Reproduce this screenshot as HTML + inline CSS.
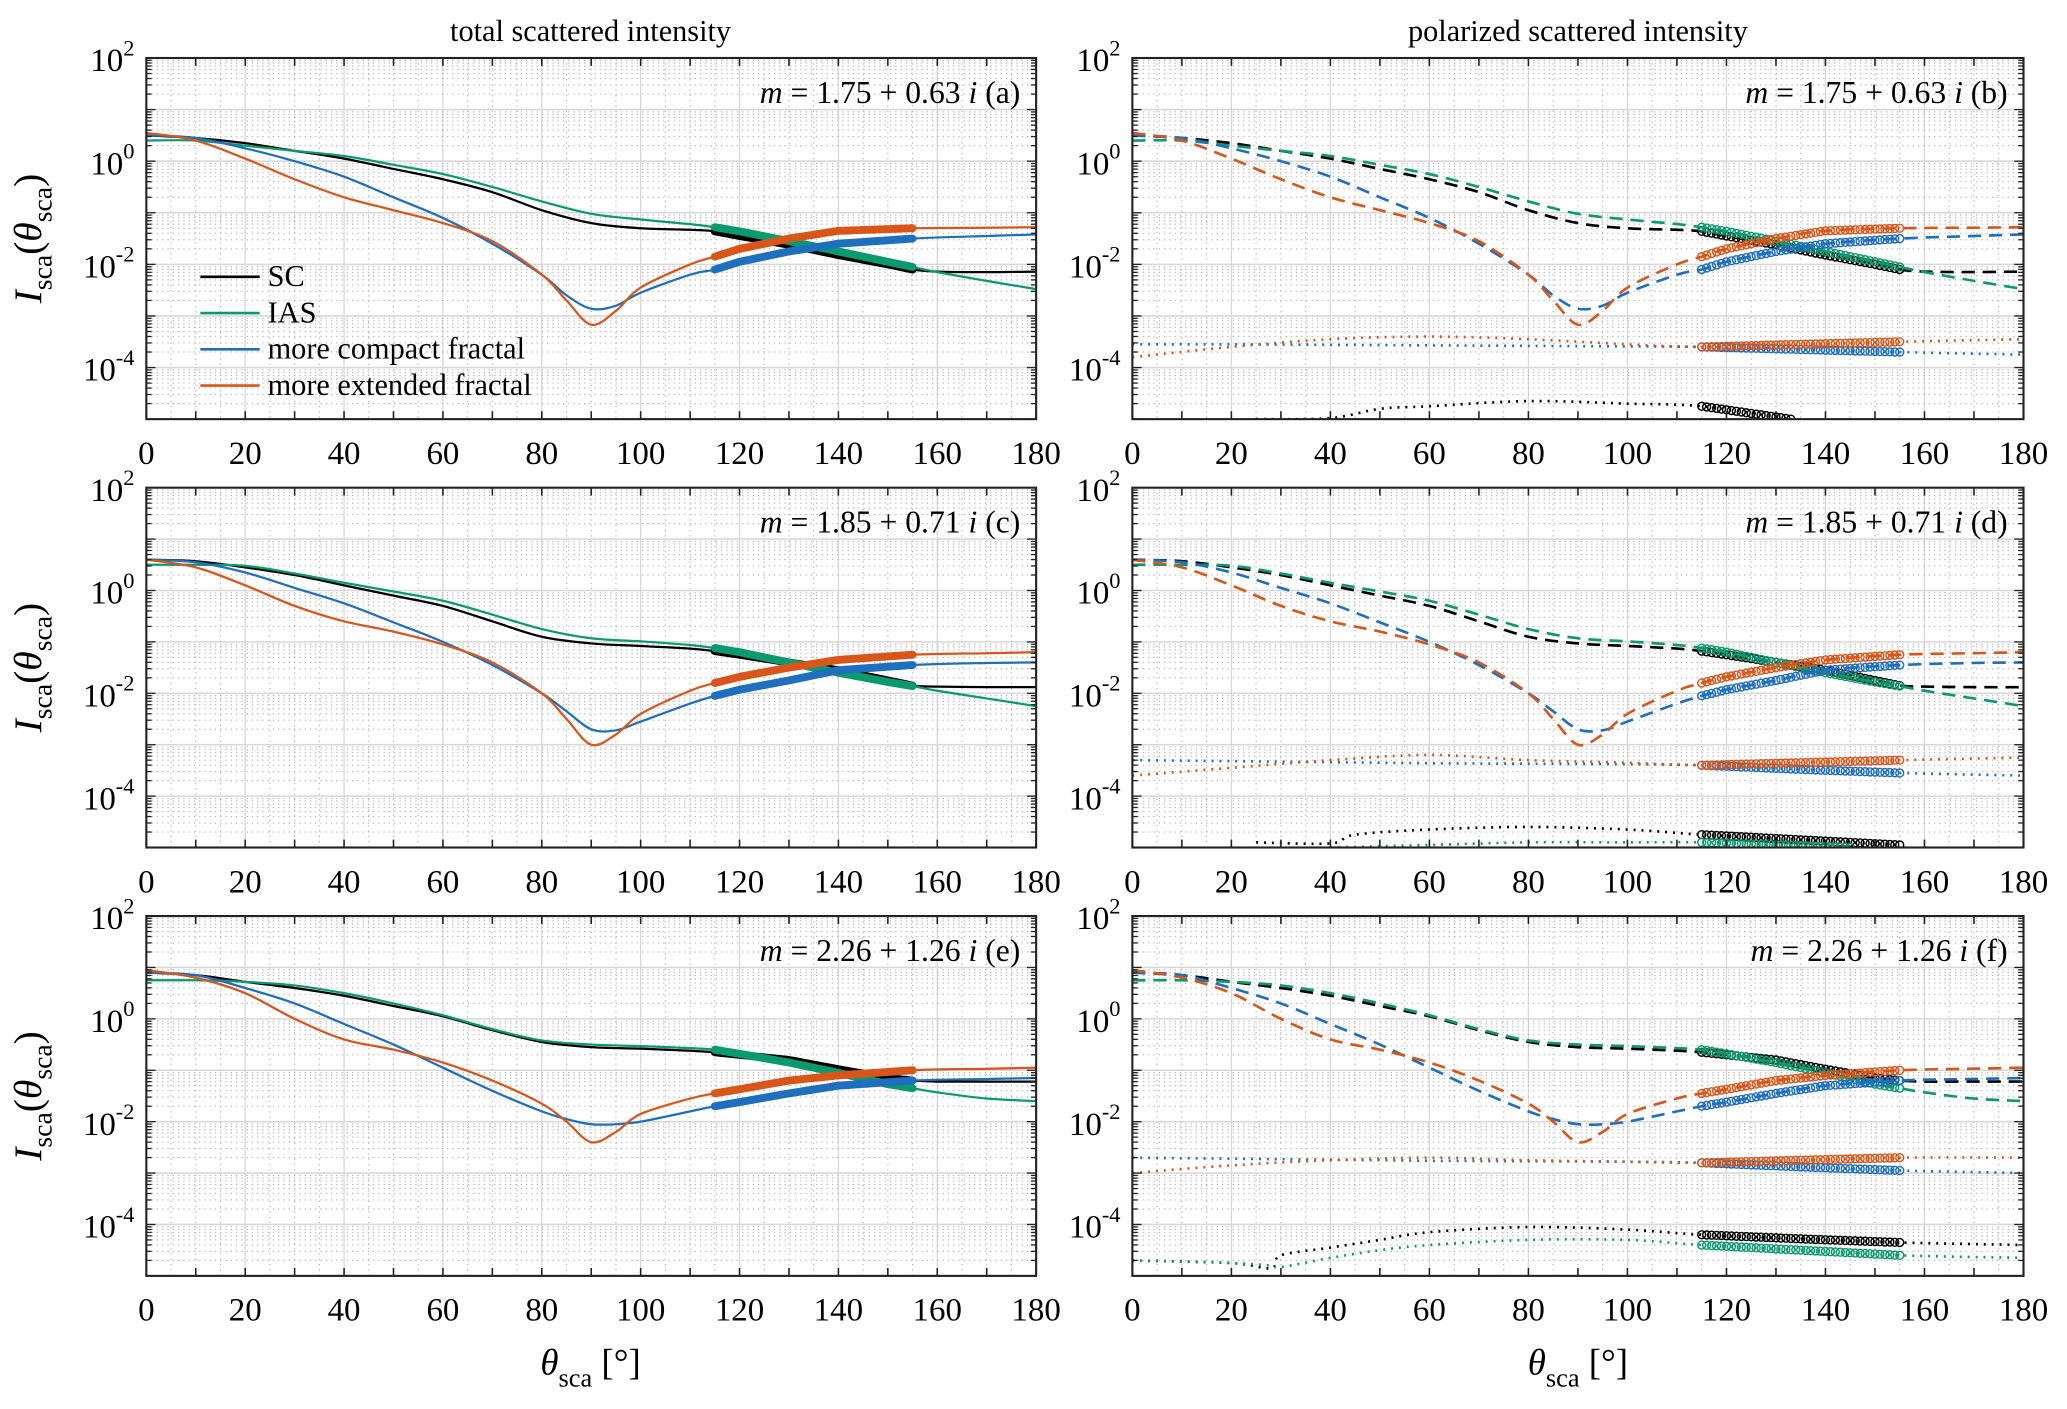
<!DOCTYPE html>
<html><head><meta charset="utf-8">
<style>
html,body{margin:0;padding:0;background:#fff;}
svg{display:block;font-family:"Liberation Serif",serif;}
svg text{font-family:"Liberation Serif",serif;}
</style></head>
<body>
<svg id="fig" width="2067" height="1409" viewBox="0 0 1568 1069" preserveAspectRatio="none" xmlns="http://www.w3.org/2000/svg">
<text x="448" y="31" font-size="23" text-anchor="middle">total scattered intensity</text>
<text x="1197" y="31" font-size="23" text-anchor="middle">polarized scattered intensity</text>
<text x="448" y="1043" font-size="28" text-anchor="middle"><tspan font-style="italic">θ</tspan><tspan font-size="20" dy="9">sca</tspan><tspan dy="-9"> [°]</tspan></text>
<text x="1197" y="1043" font-size="28" text-anchor="middle"><tspan font-style="italic">θ</tspan><tspan font-size="20" dy="9">sca</tspan><tspan dy="-9"> [°]</tspan></text>
</svg>
<script>
// ---- data (log10 of intensity), knots in degrees ----
const thetaA = [0,10,20,30,40,50,60,70,80,90,100,110,115,120,130,140,150,155,160,170,180];
const scA   = [0.5,0.45,0.35,0.2,0.05,-0.15,-0.35,-0.6,-0.95,-1.2,-1.3,-1.33,-1.36,-1.45,-1.62,-1.82,-2.0,-2.1,-2.14,-2.15,-2.14];
const iasA  = [0.4,0.4,0.3,0.2,0.1,-0.07,-0.25,-0.5,-0.78,-1.02,-1.13,-1.22,-1.28,-1.36,-1.55,-1.75,-1.95,-2.05,-2.15,-2.32,-2.48];
const thetaK = [0,10,20,30,40,50,60,70,80,85,90,95,100,110,115,120,130,140,155,170,180];
const compA = [0.5,0.45,0.25,0.0,-0.3,-0.7,-1.1,-1.6,-2.2,-2.6,-2.86,-2.8,-2.55,-2.2,-2.1,-1.95,-1.75,-1.6,-1.5,-1.45,-1.42];
const extA  = [0.55,0.4,0.05,-0.35,-0.7,-0.95,-1.2,-1.55,-2.2,-2.7,-3.17,-2.9,-2.45,-2.0,-1.85,-1.7,-1.5,-1.35,-1.3,-1.29,-1.28];

const scC   = [0.6,0.57,0.45,0.3,0.1,-0.1,-0.3,-0.6,-0.9,-1.03,-1.08,-1.13,-1.18,-1.25,-1.4,-1.55,-1.75,-1.85,-1.87,-1.88,-1.88];
const iasC  = [0.5,0.5,0.48,0.33,0.15,-0.02,-0.2,-0.47,-0.75,-0.93,-0.99,-1.06,-1.12,-1.2,-1.4,-1.6,-1.78,-1.86,-1.95,-2.1,-2.25];
const compC = [0.6,0.55,0.35,0.05,-0.25,-0.62,-1.0,-1.45,-2.0,-2.35,-2.7,-2.72,-2.55,-2.2,-2.05,-1.93,-1.75,-1.55,-1.45,-1.41,-1.4];
const extC  = [0.6,0.45,0.1,-0.3,-0.6,-0.8,-1.05,-1.4,-2.0,-2.5,-3.0,-2.8,-2.4,-1.95,-1.8,-1.68,-1.5,-1.35,-1.25,-1.22,-1.2];

const scE   = [0.9,0.85,0.72,0.6,0.45,0.25,0.05,-0.22,-0.45,-0.55,-0.58,-0.62,-0.65,-0.7,-0.8,-0.98,-1.15,-1.2,-1.22,-1.22,-1.22];
const iasE  = [0.75,0.75,0.72,0.65,0.5,0.3,0.07,-0.2,-0.42,-0.5,-0.53,-0.57,-0.6,-0.68,-0.85,-1.05,-1.27,-1.35,-1.43,-1.55,-1.6];
const compE = [0.9,0.85,0.6,0.3,-0.1,-0.5,-0.95,-1.4,-1.8,-1.95,-2.05,-2.05,-2.0,-1.8,-1.7,-1.62,-1.45,-1.3,-1.2,-1.17,-1.15];
const extE  = [0.95,0.8,0.5,0.0,-0.4,-0.6,-0.85,-1.2,-1.65,-2.0,-2.4,-2.2,-1.85,-1.55,-1.45,-1.37,-1.2,-1.1,-1.0,-0.97,-0.95];

// polarized low-level (dotted) curves
const thetaP = [0,20,40,60,80,100,115,135,155,180];
const bluePB = [-3.55,-3.55,-3.56,-3.57,-3.58,-3.59,-3.6,-3.65,-3.7,-3.75];
const orgPB  = [-3.8,-3.6,-3.45,-3.4,-3.45,-3.55,-3.6,-3.55,-3.5,-3.45];
const thetaBlkB = [25,40,50,60,80,100,115,133];
const blkPB  = [-5.0,-4.98,-4.8,-4.75,-4.65,-4.7,-4.75,-5.0];

const bluePD = [-3.3,-3.32,-3.34,-3.36,-3.37,-3.38,-3.4,-3.48,-3.55,-3.6];
const orgPD  = [-3.6,-3.45,-3.3,-3.2,-3.3,-3.35,-3.4,-3.35,-3.3,-3.25];
const thetaBlkD = [25,40,45,60,80,100,115,135,155];
const blkPD  = [-4.9,-4.92,-4.75,-4.65,-4.6,-4.65,-4.75,-4.85,-4.95];
const thetaGrnD = [40,60,80,100,115,130,145];
const grnPD  = [-5.0,-4.95,-4.9,-4.9,-4.9,-4.95,-5.0];

const bluePF = [-2.7,-2.72,-2.74,-2.76,-2.77,-2.78,-2.8,-2.88,-2.95,-3.0];
const orgPF  = [-3.0,-2.85,-2.75,-2.7,-2.75,-2.78,-2.8,-2.75,-2.7,-2.7];
const thetaLowF = [0,20,28,30,40,50,60,80,100,115,135,155,180];
const blkPF  = [-4.7,-4.75,-4.85,-4.6,-4.45,-4.3,-4.15,-4.05,-4.1,-4.2,-4.28,-4.35,-4.4];
const grnPF  = [-4.7,-4.75,-4.8,-4.83,-4.65,-4.5,-4.4,-4.3,-4.3,-4.4,-4.5,-4.6,-4.65];

const xTicks = [0,20,40,60,80,100,120,140,160,180];
const yTickExp = [2,0,-2,-4];
const labels = ["m = 1.75 + 0.63i (a)","m = 1.75 + 0.63i (b)","m = 1.85 + 0.71i (c)","m = 1.85 + 0.71i (d)","m = 2.26 + 1.26i (e)","m = 2.26 + 1.26i (f)"];
const legendNames = ["SC","IAS","more compact fractal","more extended fractal"];

const COL = {sc:"#000000", ias:"#0a9a6e", comp:"#1f6fbf", ext:"#d9561a"};
const svg = document.getElementById('fig');
const NS = "http://www.w3.org/2000/svg";
function mk(tag, attrs, parent){ const e=document.createElementNS(NS,tag); for(const k in attrs) e.setAttribute(k,attrs[k]); (parent||svg).appendChild(e); return e; }

const cols=[{x0:111,x1:786},{x0:859,x1:1535}];
const rows=[{y0:44,y1:318},{y0:370,y1:643},{y0:695,y1:968}];

function interp(xs, ys, x){
  for(let i=0;i<xs.length-1;i++){ if(x>=xs[i]&&x<=xs[i+1]){ const t=(x-xs[i])/(xs[i+1]-xs[i]); return ys[i]+t*(ys[i+1]-ys[i]); } }
  return x<xs[0]?ys[0]:ys[ys.length-1];
}
function pathFrom(pts){
  let d="M"+pts[0][0].toFixed(2)+","+pts[0][1].toFixed(2);
  for(let i=0;i<pts.length-1;i++){
    const p0=pts[Math.max(0,i-1)],p1=pts[i],p2=pts[i+1],p3=pts[Math.min(pts.length-1,i+2)];
    const c1=[p1[0]+(p2[0]-p0[0])/6,p1[1]+(p2[1]-p0[1])/6];
    const c2=[p2[0]-(p3[0]-p1[0])/6,p2[1]-(p3[1]-p1[1])/6];
    d+=" C"+c1[0].toFixed(2)+","+c1[1].toFixed(2)+" "+c2[0].toFixed(2)+","+c2[1].toFixed(2)+" "+p2[0].toFixed(2)+","+p2[1].toFixed(2);
  }
  return d;
}

function panel(ci, ri, idx){
  const {x0,x1}=cols[ci], {y0,y1}=rows[ri];
  const g=mk('g',{});
  
  
  const X=t=>x0+(t/180)*(x1-x0);
  const Y=v=>y0+(2-v)/7*(y1-y0);
  const clipId='clip'+idx;
  const cp=mk('clipPath',{id:clipId},g); mk('rect',{x:x0,y:y0,width:x1-x0,height:y1-y0},cp);
  // grid
  for(let t=5;t<180;t+=5){ const major=t%20===0; mk('line',{x1:X(t),x2:X(t),y1:y0,y2:y1,stroke:major?"#d8d8d8":"#b8b8b8","stroke-width":major?1:0.9,"stroke-dasharray":major?"":"1,3"},g); }
  for(let e=-5;e<2;e++){ for(let m=1;m<10;m++){ const v=e+Math.log10(m); if(m===1){ if(e>-5) mk('line',{x1:x0,x2:x1,y1:Y(v),y2:Y(v),stroke:"#d8d8d8","stroke-width":1.2},g);} else mk('line',{x1:x0,x2:x1,y1:Y(v),y2:Y(v),stroke:"#b8b8b8","stroke-width":0.9,"stroke-dasharray":"1,3"},g); } }
  const pg=mk('g',{'clip-path':'url(#'+clipId+')'},g);
  function curve(xs,ys,color,opts){
    const pts=xs.map((t,i)=>[X(t),Y(ys[i])]);
    const p=mk('path',{d:pathFrom(pts),fill:"none",stroke:color,"stroke-width":opts.w||1.6,"stroke-dasharray":opts.dash||""},pg);
    
    
    if(opts.thick){ const seg=[]; for(let t=115;t<=155;t+=1) seg.push([X(t),Y(interp(xs,ys,t))]); const q=mk('path',{d:pathFrom(seg),fill:"none",stroke:color,"stroke-width":6,"stroke-linecap":"round"},pg);   }
    if(opts.circles){ for(let t=115;t<=Math.min(155,xs[xs.length-1]);t+=1){ const c=mk('circle',{cx:X(t),cy:Y(interp(xs,ys,t)),r:3,fill:"none",stroke:color,"stroke-width":1.1},pg);   } }
  }
  const sets=[[scA,iasA,compA,extA],[scC,iasC,compC,extC],[scE,iasE,compE,extE]][ri];
  const tx=[thetaA,thetaA,thetaK,thetaK];
  const keys=['sc','ias','comp','ext'];
  if(ci===0){
    keys.forEach((k,i)=>curve(tx[i],sets[i],COL[k],{name:k+'-line',thick:true,w:1.7}));
  } else {
    const low=[
      {b:bluePB,o:orgPB,extra:[[thetaBlkB,blkPB,'sc']]},
      {b:bluePD,o:orgPD,extra:[[thetaBlkD,blkPD,'sc'],[thetaGrnD,grnPD,'ias']]},
      {b:bluePF,o:orgPF,extra:[[thetaLowF,blkPF,'sc'],[thetaLowF,grnPF,'ias']]}][ri];
    keys.forEach((k,i)=>curve(tx[i],sets[i],COL[k],{name:k+'-dashed',dash:"10,6",circles:true,w:2}));
    curve(thetaP,low.b,COL.comp,{name:'comp-dotted',dash:"1.5,4.5",circles:true,w:2});
    curve(thetaP,low.o,COL.ext,{name:'ext-dotted',dash:"1.5,4.5",circles:true,w:2});
    low.extra.forEach(([xs,ys,k])=>curve(xs,ys,COL[k],{name:k+'-dotted',dash:"1.5,4.5",circles:true,w:2}));
  }
  // axes box
  mk('rect',{x:x0,y:y0,width:x1-x0,height:y1-y0,fill:"none",stroke:"#222","stroke-width":1.6},g);
  for(let t=0;t<=180;t+=10){ mk('line',{x1:X(t),x2:X(t),y1:y1,y2:y1-6,stroke:"#222","stroke-width":1.2},g); mk('line',{x1:X(t),x2:X(t),y1:y0,y2:y0+6,stroke:"#222","stroke-width":1.2},g); }
  for(let e=-5;e<2;e++){ for(let m=1;m<10;m++){ const v=e+Math.log10(m); const L=m===1?7:4; mk('line',{x1:x0,x2:x0+L,y1:Y(v),y2:Y(v),stroke:"#222","stroke-width":1},g); mk('line',{x1:x1,x2:x1-L,y1:Y(v),y2:Y(v),stroke:"#222","stroke-width":1},g);} }
  xTicks.forEach(t=>{ const tl=mk('text',{x:X(t),y:y1+34,"font-size":25,"text-anchor":"middle"},g); tl.textContent=t;   });
  yTickExp.forEach(e=>{ const tl=mk('text',{x:x0-9,y:Y(e)+10,"font-size":25,"text-anchor":"end"},g);   const a=mk('tspan',{},tl); a.textContent="10"; const b=mk('tspan',{dy:-12,"font-size":17},tl); b.textContent=String(e); });
  // annotation
  const lab=labels[idx]; const mm=lab.match(/m = (.*)i \((.)\)/);
  const an=mk('text',{x:x1-12,y:y0+34,"font-size":24,"text-anchor":"end"},g);
  
  
  const s1=mk('tspan',{"font-style":"italic"},an); s1.textContent="m";
  const s2=mk('tspan',{},an); s2.textContent=" = "+mm[1];
  const s3=mk('tspan',{"font-style":"italic"},an); s3.textContent=" i";
  const s4=mk('tspan',{},an); s4.textContent=" ("+mm[2]+")";
  if(ci===0){
    const yl=mk('text',{transform:`translate(${x0-80},${(y0+y1)/2}) rotate(-90)`,"font-size":30,"text-anchor":"middle"},g);
    
    
    const a=mk('tspan',{"font-style":"italic"},yl); a.textContent="I";
    const b=mk('tspan',{"font-size":21,dy:8},yl); b.textContent="sca";
    const c=mk('tspan',{dy:-8},yl); c.textContent="(";
    const d=mk('tspan',{"font-style":"italic"},yl); d.textContent="θ";
    const e=mk('tspan',{"font-size":21,dy:8},yl); e.textContent="sca";
    const f=mk('tspan',{dy:-8},yl); f.textContent=")";
  }
  if(idx===0){
    const lg=mk('g',{},g);
    
    
    legendNames.forEach((n,i)=>{
      const yy=210+i*27.5;
      mk('line',{x1:152,x2:197,y1:yy,y2:yy,stroke:COL[keys[i]],"stroke-width":2},lg);
      const t=mk('text',{x:203,y:yy+7,"font-size":23},lg); t.textContent=n;
      
      
    });
  }
}
let idx=0;
for(let r=0;r<3;r++) for(let c=0;c<2;c++) panel(c,r,idx++);
</script>
</body></html>
